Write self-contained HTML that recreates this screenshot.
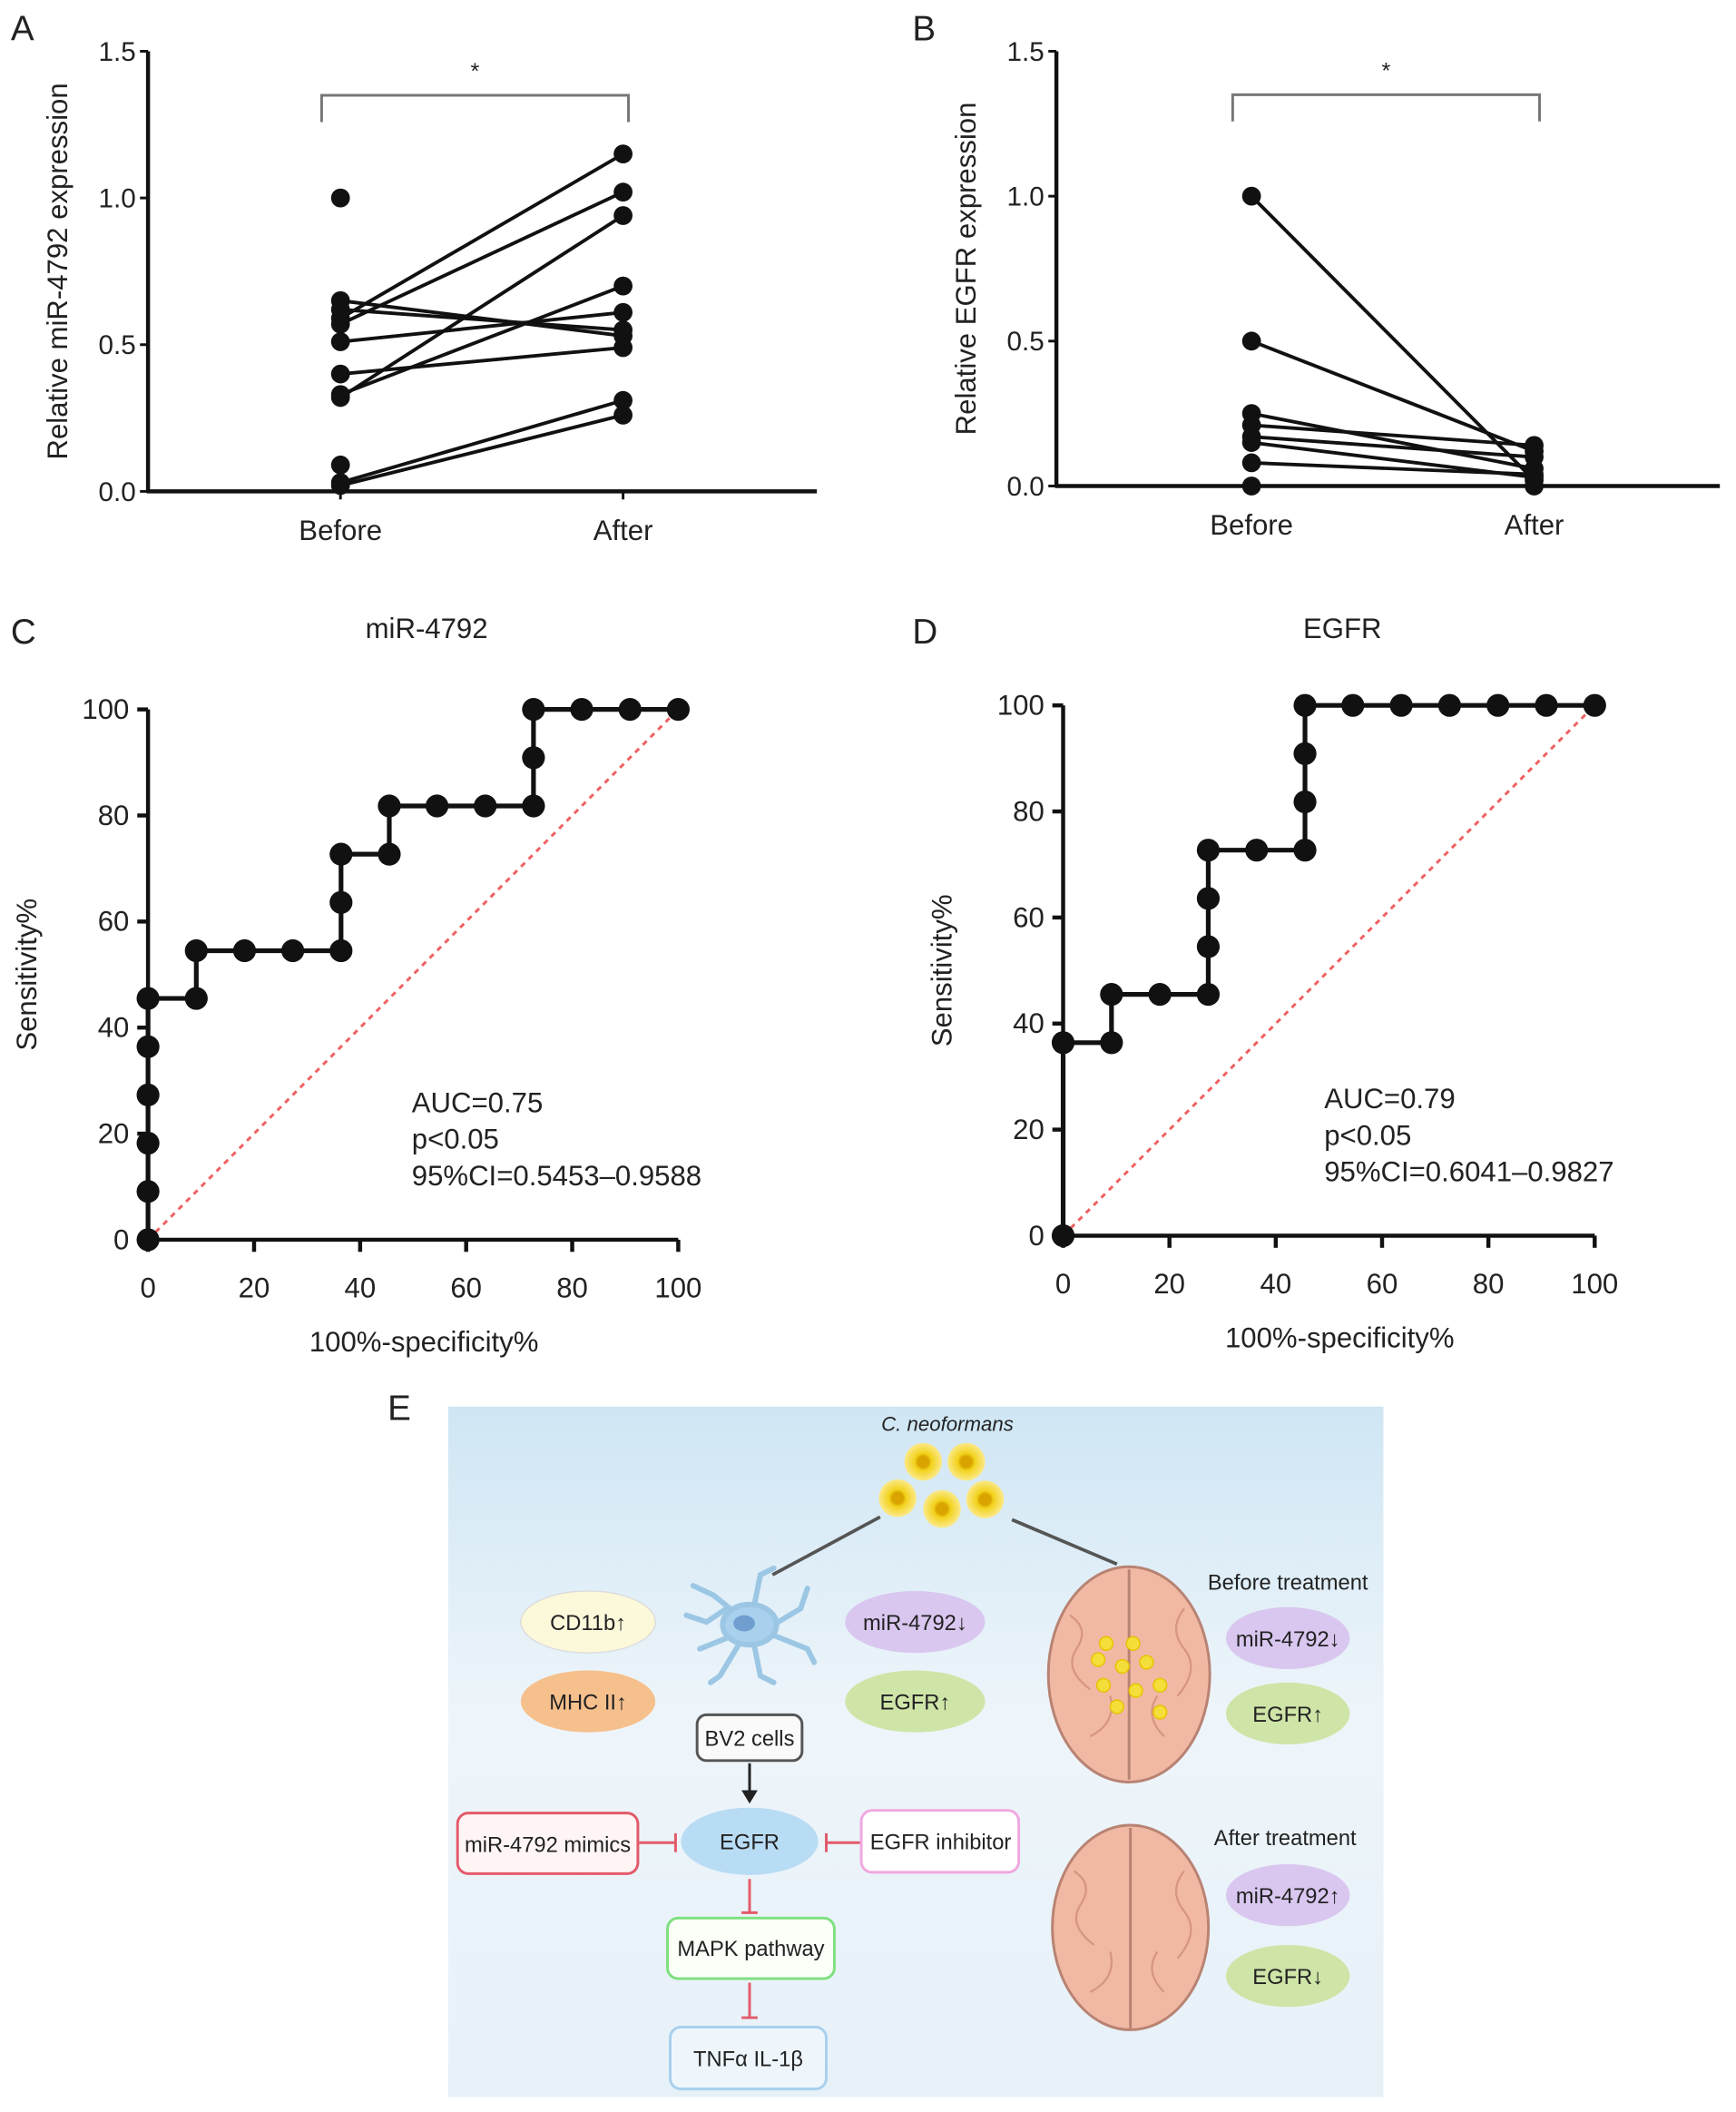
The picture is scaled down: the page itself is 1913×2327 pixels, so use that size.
<!DOCTYPE html>
<html><head><meta charset="utf-8"><style>
html,body{margin:0;padding:0;background:#fff}
svg{display:block}
text{font-family:"Liberation Sans",Arial,sans-serif;fill:#222}
</style></head><body>
<svg width="1913" height="2327" viewBox="0 0 1290 1569" xmlns="http://www.w3.org/2000/svg">
<defs>
<linearGradient id="bg" x1="0" y1="0" x2="0" y2="1"><stop offset="0" stop-color="#cfe6f4"/><stop offset="0.45" stop-color="#eef5fa"/><stop offset="1" stop-color="#e6f1f8"/></linearGradient>
<radialGradient id="yeast"><stop offset="0.3" stop-color="#d9a400"/><stop offset="0.45" stop-color="#f2d21a"/><stop offset="1" stop-color="#fbe98a"/></radialGradient>
</defs>
<g id="panelA"></g>
<g id="panelB"></g>
<g id="panelC"></g>
<g id="panelD"></g>

<g>
<text x="288" y="1055" font-size="26">E</text>
<rect x="333" y="1045" width="695" height="513" fill="url(#bg)"/>
<text x="704" y="1063" font-size="15" font-style="italic" text-anchor="middle">C. neoformans</text>
<g>
<circle cx="686" cy="1086" r="14" fill="url(#yeast)"/><circle cx="718" cy="1086" r="14" fill="url(#yeast)"/>
<circle cx="667" cy="1113" r="14" fill="url(#yeast)"/><circle cx="700" cy="1121" r="14" fill="url(#yeast)"/><circle cx="732" cy="1114" r="14" fill="url(#yeast)"/>
</g>
<line x1="654" y1="1127" x2="574" y2="1170" stroke="#555" stroke-width="2.5"/>
<line x1="752" y1="1129" x2="830" y2="1162" stroke="#555" stroke-width="2.5"/>
<g stroke="#9cc7e4" stroke-width="4" fill="none" stroke-linecap="round">
<path d="M555 1205 L530 1185 L515 1178 M540 1195 L525 1205 L510 1200 M560 1195 L565 1170 L575 1165 M570 1210 L595 1195 L600 1180 M575 1215 L600 1225 L605 1235 M560 1220 L565 1245 L575 1250 M550 1220 L535 1245 L528 1250 M545 1215 L520 1225"/>
<ellipse cx="557" cy="1207" rx="20" ry="15" fill="#a9d0ec"/>
<ellipse cx="553" cy="1206" rx="8" ry="6" fill="#6f9ecf" stroke="none"/>
</g>
<g><ellipse cx="437" cy="1205" rx="50" ry="23" fill="#fbf9da" stroke="#ddd" /><text x="437" y="1211" font-size="16" text-anchor="middle">CD11b↑</text></g>
<g><ellipse cx="437" cy="1264" rx="50" ry="23" fill="#f6c08d"/><text x="437" y="1270" font-size="16" text-anchor="middle">MHC II↑</text></g>
<g><ellipse cx="680" cy="1205" rx="52" ry="23" fill="#d9c7f0"/><text x="680" y="1211" font-size="16" text-anchor="middle">miR-4792↓</text></g>
<g><ellipse cx="680" cy="1264" rx="52" ry="23" fill="#cfe5a8"/><text x="680" y="1270" font-size="16" text-anchor="middle">EGFR↑</text></g>
<g><rect x="518" y="1274" width="78" height="34" rx="7" fill="#fafafa" stroke="#555" stroke-width="2"/><text x="557" y="1297" font-size="16" text-anchor="middle">BV2 cells</text></g>
<line x1="557" y1="1310" x2="557" y2="1333" stroke="#222" stroke-width="2"/><path d="M551 1330 L557 1340 L563 1330Z" fill="#222"/>
<g><ellipse cx="557" cy="1368" rx="51" ry="25" fill="#b9dcf5"/><text x="557" y="1374" font-size="16" text-anchor="middle">EGFR</text></g>
<g><rect x="340" y="1347" width="134" height="45" rx="8" fill="#fff5f5" stroke="#e35a6a" stroke-width="2"/><text x="407" y="1376" font-size="16" text-anchor="middle">miR-4792 mimics</text></g>
<line x1="475" y1="1369" x2="502" y2="1369" stroke="#e35a6a" stroke-width="2"/><line x1="502" y1="1362" x2="502" y2="1376" stroke="#e35a6a" stroke-width="2"/>
<g><rect x="640" y="1345" width="117" height="46" rx="8" fill="#fff" stroke="#f0a8e0" stroke-width="2"/><text x="699" y="1374" font-size="16" text-anchor="middle">EGFR inhibitor</text></g>
<line x1="639" y1="1369" x2="614" y2="1369" stroke="#e35a6a" stroke-width="2"/><line x1="614" y1="1362" x2="614" y2="1376" stroke="#e35a6a" stroke-width="2"/>
<line x1="557" y1="1396" x2="557" y2="1421" stroke="#e35a6a" stroke-width="2"/><line x1="551" y1="1421" x2="563" y2="1421" stroke="#e35a6a" stroke-width="2"/>
<g><rect x="496" y="1425" width="124" height="45" rx="8" fill="#fafff8" stroke="#7fe07f" stroke-width="2"/><text x="558" y="1453" font-size="16" text-anchor="middle">MAPK pathway</text></g>
<line x1="557" y1="1473" x2="557" y2="1499" stroke="#e35a6a" stroke-width="2"/><line x1="551" y1="1499" x2="563" y2="1499" stroke="#e35a6a" stroke-width="2"/>
<g><rect x="498" y="1506" width="116" height="46" rx="8" fill="#eef6fc" stroke="#a8d0ee" stroke-width="2"/><text x="556" y="1535" font-size="16" text-anchor="middle">TNFα IL-1β</text></g>
<text x="957" y="1181" font-size="16" text-anchor="middle">Before treatment</text>
<g>
<ellipse cx="839" cy="1244" rx="60" ry="80" fill="#f1b9a3" stroke="#b88373" stroke-width="2"/>
<line x1="839" y1="1166" x2="839" y2="1322" stroke="#b88373" stroke-width="2"/>
<path d="M795 1200 q15 10 5 25 q-10 15 10 30 M880 1195 q-12 15 0 30 q12 15 -5 35 M810 1290 q20 -10 15 -30 M865 1290 q-15 -15 -5 -30" stroke="#d69582" fill="none" stroke-width="1.5"/>
<g fill="#f3de3a" stroke="#e9c200"><circle cx="822" cy="1221" r="5"/><circle cx="842" cy="1221" r="5"/><circle cx="816" cy="1233" r="5"/><circle cx="834" cy="1238" r="5"/><circle cx="852" cy="1235" r="5"/><circle cx="820" cy="1252" r="5"/><circle cx="844" cy="1256" r="5"/><circle cx="862" cy="1252" r="5"/><circle cx="830" cy="1268" r="5"/><circle cx="862" cy="1272" r="5"/></g>
</g>
<g><ellipse cx="957" cy="1217" rx="46" ry="23" fill="#d9c7f0"/><text x="957" y="1223" font-size="16" text-anchor="middle">miR-4792↓</text></g>
<g><ellipse cx="957" cy="1273" rx="46" ry="23" fill="#cfe5a8"/><text x="957" y="1279" font-size="16" text-anchor="middle">EGFR↑</text></g>
<text x="955" y="1371" font-size="16" text-anchor="middle">After treatment</text>
<g>
<ellipse cx="840" cy="1432" rx="58" ry="76" fill="#f1b9a3" stroke="#b88373" stroke-width="2"/>
<line x1="840" y1="1358" x2="840" y2="1507" stroke="#b88373" stroke-width="2"/>
<path d="M798 1390 q15 10 5 25 q-10 15 10 30 M880 1390 q-12 15 0 30 q12 15 -5 35 M810 1480 q20 -10 15 -30 M865 1480 q-15 -15 -5 -30" stroke="#d69582" fill="none" stroke-width="1.5"/>
</g>
<g><ellipse cx="957" cy="1408" rx="46" ry="23" fill="#d9c7f0"/><text x="957" y="1414" font-size="16" text-anchor="middle">miR-4792↑</text></g>
<g><ellipse cx="957" cy="1468" rx="46" ry="23" fill="#cfe5a8"/><text x="957" y="1474" font-size="16" text-anchor="middle">EGFR↓</text></g>
</g>
</svg>
<script>
const aBefore = [0.59, 0.57, 0.32, 0.33, 0.51, 0.65, 0.62, 0.40, 0.03, 0.02, 1.00, 0.09];
const aAfter  = [1.15, 1.02, 0.94, 0.70, 0.61, 0.53, 0.55, 0.49, 0.31, 0.26, null, null];
const bBefore = [1.00, 0.50, 0.25, 0.21, 0.17, 0.15, 0.08, 0.00];
const bAfter  = [0.02, 0.12, 0.06, 0.14, 0.10, 0.03, 0.04, 0.00];
const pairTicks = ["0.0", "0.5", "1.0", "1.5"];
const pairTickVals = [0, 0.5, 1.0, 1.5];
const groups = ["Before", "After"];
const cFpr = [0,0,0,0,0,0,9.1,9.1,18.2,27.3,36.4,36.4,36.4,45.5,45.5,54.5,63.6,72.7,72.7,72.7,81.8,90.9,100];
const cTpr = [0,9.1,18.2,27.3,36.4,45.5,45.5,54.5,54.5,54.5,54.5,63.6,72.7,72.7,81.8,81.8,81.8,81.8,90.9,100,100,100,100];
const dFpr = [0,0,9.1,9.1,18.2,27.3,27.3,27.3,27.3,36.4,45.5,45.5,45.5,45.5,54.5,63.6,72.7,81.8,90.9,100];
const dTpr = [0,36.4,36.4,45.5,45.5,45.5,54.5,63.6,72.7,72.7,72.7,81.8,90.9,100,100,100,100,100,100,100];
const rocTicks = [0, 20, 40, 60, 80, 100];

const NS = "http://www.w3.org/2000/svg";
function mk(parent, tag, attrs, txt) {
  const e = document.createElementNS(NS, tag);
  for (const k in attrs) e.setAttribute(k, attrs[k]);
  if (txt !== undefined) e.textContent = txt;
  parent.appendChild(e);
  return e;
}

function pairPanel(gid, letter, lx, ax, x0, xEnd, xB, xA, yTop, yBot, ylabel, before, after) {
  const g = document.getElementById(gid);
  const y = v => yBot - (v / 1.5) * (yBot - yTop);
  const t = mk(g, "text", {x: lx, y: 30, "font-size": 26}, letter);
  
  
  const ya = mk(g, "line", {x1: ax, y1: yTop, x2: ax, y2: yBot + 1, stroke: "#111", "stroke-width": 3});
  
  
  const xa = mk(g, "line", {x1: ax - 1, y1: yBot, x2: xEnd, y2: yBot, stroke: "#111", "stroke-width": 3});
  
  
  pairTickVals.forEach((v, i) => {
    mk(g, "line", {x1: ax - 6, y1: y(v), x2: ax, y2: y(v), stroke: "#111", "stroke-width": 2});
    const tl = mk(g, "text", {x: ax - 9, y: y(v) + 7, "font-size": 20, "text-anchor": "end"}, pairTicks[i]);
    
    
  });
  [xB, xA].forEach((xx, i) => {
    mk(g, "line", {x1: xx, y1: yBot, x2: xx, y2: yBot + 6, stroke: "#111", "stroke-width": 2});
    const tl = mk(g, "text", {x: xx, y: yBot + 36, "font-size": 21, "text-anchor": "middle"}, groups[i]);
    
    
  });
  const yl = mk(g, "text", {x: 0, y: 0, "font-size": 21, "text-anchor": "middle", transform: `translate(${ax - 60},${(yTop + yBot) / 2}) rotate(-90)`}, ylabel);
  
  
  const br = mk(g, "path", {d: `M${xB - 14} ${y(1.3)+9} V${y(1.35)} H${xA + 4} V${y(1.3)+9}`, fill: "none", stroke: "#777", "stroke-width": 2});
  
  
  const st = mk(g, "text", {x: (xB + xA) / 2 - 5, y: y(1.35) - 12, "font-size": 17, "text-anchor": "middle", fill: "#555"}, "*");
  
  
  before.forEach((b, i) => {
    const a = after[i];
    if (a !== null && a !== undefined) {
      const ln = mk(g, "line", {x1: xB, y1: y(b), x2: xA, y2: y(a), stroke: "#111", "stroke-width": 2.6});
      
      
    }
  });
  before.forEach((b, i) => {
    const c = mk(g, "circle", {cx: xB, cy: y(b), r: 7, fill: "#111"});
    
    
    const a = after[i];
    if (a !== null && a !== undefined) {
      const c2 = mk(g, "circle", {cx: xA, cy: y(a), r: 7, fill: "#111"});
      
      
    }
  });
}

function rocPanel(gid, letter, lx, title, ax, xR, yTop, yBot, fpr, tpr, stats, sx) {
  const g = document.getElementById(gid);
  const X = v => ax + v / 100 * (xR - ax);
  const Y = v => yBot - v / 100 * (yBot - yTop);
  const t = mk(g, "text", {x: lx, y: 478, "font-size": 26}, letter);
  
  
  const tt = mk(g, "text", {x: (ax + xR) / 2 + 10, y: 474, "font-size": 21, "text-anchor": "middle"}, title);
  
  
  const ya = mk(g, "line", {x1: ax, y1: yTop, x2: ax, y2: yBot, stroke: "#111", "stroke-width": 3});
  
  
  const xa = mk(g, "line", {x1: ax - 8, y1: yBot, x2: xR, y2: yBot, stroke: "#111", "stroke-width": 3});
  
  
  rocTicks.forEach(v => {
    mk(g, "line", {x1: ax - 8, y1: Y(v), x2: ax, y2: Y(v), stroke: "#111", "stroke-width": 3});
    const yl = mk(g, "text", {x: ax - 14, y: Y(v) + 7, "font-size": 21, "text-anchor": "end"}, String(v));
    
    
    mk(g, "line", {x1: X(v), y1: yBot, x2: X(v), y2: yBot + 9, stroke: "#111", "stroke-width": 3});
    const xl = mk(g, "text", {x: X(v), y: yBot + 43, "font-size": 21, "text-anchor": "middle"}, String(v));
    
    
  });
  const xt = mk(g, "text", {x: (ax + xR) / 2 + 8, y: yBot + 83, "font-size": 21, "text-anchor": "middle"}, "100%-specificity%");
  
  
  const yt = mk(g, "text", {x: 0, y: 0, "font-size": 21, "text-anchor": "middle", transform: `translate(${ax - 83},${(yTop + yBot) / 2}) rotate(-90)`}, "Sensitivity%");
  
  
  const ref = mk(g, "line", {x1: X(0), y1: Y(0), x2: X(100), y2: Y(100), stroke: "#f06060", "stroke-width": 2, "stroke-dasharray": "4 4"});
  
  
  const pts = fpr.map((f, i) => `${X(f)},${Y(tpr[i])}`).join(" ");
  const pl = mk(g, "polyline", {points: pts, fill: "none", stroke: "#111", "stroke-width": 3.5});
  
  
  fpr.forEach((f, i) => {
    const c = mk(g, "circle", {cx: X(f), cy: Y(tpr[i]), r: 8.5, fill: "#111"});
    
    
  });
  stats.forEach((s, i) => {
    const st = mk(g, "text", {x: sx, y: Y(24) + i * 27, "font-size": 21}, s);
    
    
  });
}

pairPanel("panelA", "A", 8, 110, 110, 607, 253, 463, 38, 365, "Relative miR-4792 expression", aBefore, aAfter);
pairPanel("panelB", "B", 678, 785, 785, 1278, 930, 1140, 38, 361, "Relative EGFR expression", bBefore, bAfter);
rocPanel("panelC", "C", 8, "miR-4792", 110, 504, 527, 921, cFpr, cTpr, ["AUC=0.75", "p<0.05", "95%CI=0.5453–0.9588"], 306);
rocPanel("panelD", "D", 678, "EGFR", 790, 1185, 524, 918, dFpr, dTpr, ["AUC=0.79", "p<0.05", "95%CI=0.6041–0.9827"], 984);
</script>
</body></html>
